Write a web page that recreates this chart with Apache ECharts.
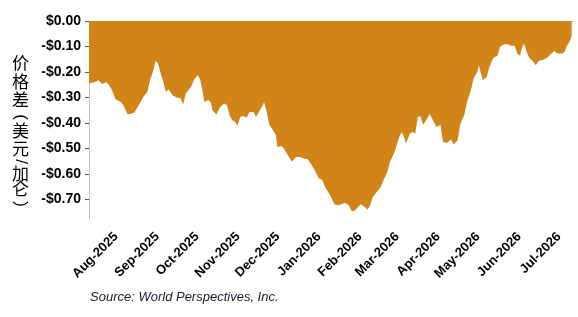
<!DOCTYPE html>
<html>
<head>
    <meta charset="utf-8">
    <title>价格差</title>
    <script src="https://cdn.jsdelivr.net/npm/echarts@6/dist/echarts.min.js"></script>
    <style>
        html, body { margin: 0; padding: 0; background: #fff; }
    </style>
</head>
<body>
    <div id="main" style="width: 578px;height:317px;"></div>
    <script type="text/javascript">
        // 数据
        var dates = [
            '2025-07-15','2025-07-20','2025-07-22','2025-07-25','2025-07-28','2025-07-30',
            '2025-08-01','2025-08-04','2025-08-08','2025-08-10','2025-08-13','2025-08-15','2025-08-18','2025-08-20','2025-08-23','2025-08-25','2025-08-28','2025-08-30',
            '2025-09-02','2025-09-03','2025-09-05','2025-09-07','2025-09-09','2025-09-11','2025-09-13','2025-09-16','2025-09-19','2025-09-22','2025-09-24','2025-09-26','2025-09-30',
            '2025-10-02','2025-10-05','2025-10-07','2025-10-09','2025-10-10','2025-10-13','2025-10-15','2025-10-16','2025-10-19','2025-10-20','2025-10-22','2025-10-25','2025-10-27','2025-10-29','2025-10-31',
            '2025-11-02','2025-11-04','2025-11-06','2025-11-08','2025-11-11','2025-11-13','2025-11-16','2025-11-18','2025-11-21','2025-11-23','2025-11-24','2025-11-26','2025-11-28','2025-11-30',
            '2025-12-03','2025-12-04','2025-12-07','2025-12-09','2025-12-12','2025-12-15','2025-12-18','2025-12-21','2025-12-24','2025-12-27','2025-12-30',
            '2026-01-02','2026-01-04','2026-01-07','2026-01-09','2026-01-12','2026-01-14','2026-01-16','2026-01-19','2026-01-24','2026-01-27','2026-01-29','2026-01-31',
            '2026-02-03','2026-02-05','2026-02-08','2026-02-10','2026-02-12','2026-02-14','2026-02-17','2026-02-20','2026-02-22','2026-02-25','2026-02-27',
            '2026-03-02','2026-03-04','2026-03-06','2026-03-08','2026-03-10','2026-03-11','2026-03-14','2026-03-16','2026-03-18','2026-03-20','2026-03-22','2026-03-24','2026-03-27','2026-03-29',
            '2026-04-01','2026-04-03','2026-04-06','2026-04-08','2026-04-11','2026-04-14','2026-04-16','2026-04-19','2026-04-21','2026-04-24','2026-04-26','2026-04-29',
            '2026-05-01','2026-05-04','2026-05-05','2026-05-08','2026-05-11','2026-05-13','2026-05-16','2026-05-19','2026-05-21','2026-05-24','2026-05-27','2026-05-29',
            '2026-06-01','2026-06-03','2026-06-05','2026-06-06','2026-06-08','2026-06-10','2026-06-12','2026-06-15','2026-06-17','2026-06-19','2026-06-22','2026-06-25','2026-06-28',
            '2026-07-01','2026-07-03','2026-07-07','2026-07-09','2026-07-10','2026-07-13','2026-07-14'
        ];
        var values = [
            -0.245,-0.238,-0.232,-0.247,-0.240,-0.251,
            -0.268,-0.307,-0.317,-0.330,-0.365,-0.365,-0.360,-0.343,-0.317,-0.297,-0.278,-0.232,
            -0.186,-0.156,-0.166,-0.205,-0.238,-0.278,-0.268,-0.291,-0.300,-0.303,-0.327,-0.284,-0.258,
            -0.232,-0.212,-0.232,-0.284,-0.317,-0.310,-0.320,-0.349,-0.366,-0.373,-0.336,-0.323,-0.330,-0.369,-0.389,
            -0.395,-0.411,-0.376,-0.372,-0.378,-0.357,-0.357,-0.376,-0.349,-0.330,-0.317,-0.356,-0.408,-0.421,
            -0.448,-0.494,-0.490,-0.500,-0.526,-0.552,-0.533,-0.533,-0.539,-0.542,-0.565,
            -0.592,-0.614,-0.624,-0.651,-0.676,-0.695,-0.718,-0.722,-0.713,-0.722,-0.745,-0.745,
            -0.729,-0.718,-0.729,-0.739,-0.722,-0.690,-0.670,-0.651,-0.624,-0.592,-0.552,
            -0.519,-0.487,-0.454,-0.435,-0.461,-0.480,-0.441,-0.435,-0.441,-0.376,-0.373,-0.408,-0.382,-0.365,
            -0.395,-0.415,-0.408,-0.474,-0.478,-0.464,-0.484,-0.467,-0.404,-0.369,-0.317,-0.271,
            -0.225,-0.199,-0.173,-0.232,-0.219,-0.179,-0.144,-0.136,-0.101,-0.091,-0.091,-0.097,
            -0.097,-0.127,-0.136,-0.114,-0.088,-0.121,-0.144,-0.160,-0.173,-0.157,-0.153,-0.146,-0.131,
            -0.118,-0.127,-0.127,-0.118,-0.101,-0.075,-0.055
        ];
        var monthTicks = ['2025-08-01','2025-09-01','2025-10-01','2025-11-01','2025-12-01','2026-01-01',
            '2026-02-01','2026-03-01','2026-04-01','2026-05-01','2026-06-01','2026-07-01'];
        var yTicks = [0, -0.1, -0.2, -0.3, -0.4, -0.5, -0.6, -0.7];
        var monthNames = ['Jan','Feb','Mar','Apr','May','Jun','Jul','Aug','Sep','Oct','Nov','Dec'];

        function toTime(s) {
            var p = s.split('-');
            return new Date(+p[0], +p[1] - 1, +p[2]).getTime();
        }

        var seriesData = [];
        for (var i = 0; i < dates.length; i++) {
            seriesData.push([toTime(dates[i]), values[i]]);
        }
        var xTickValues = monthTicks.map(toTime);

        var myChart = echarts.init(document.getElementById('main'));

        var latin = 'Arial, "Liberation Sans", sans-serif';
        var cjk = '"Noto Sans CJK SC", sans-serif';

        // 纵轴标题：竖排，括号和斜杠转 90 度
        var titleChars = [
            { t: '价', y: 63 }, { t: '格', y: 82 }, { t: '差', y: 100 },
            { t: '(', y: 117, r: true }, { t: '美', y: 131 }, { t: '元', y: 149 },
            { t: '/', y: 161.5, r: true }, { t: '加', y: 174 }, { t: '仑', y: 189 },
            { t: ')', y: 204, r: true }
        ];
        var titleGraphics = titleChars.map(function (c) {
            return {
                type: 'text',
                x: 20.5,
                y: c.y,
                rotation: c.r ? -Math.PI / 2 : 0,
                style: {
                    text: c.t,
                    align: 'center',
                    verticalAlign: 'middle',
                    fill: '#000',
                    fontSize: 17,
                    fontFamily: c.r ? latin : cjk
                }
            };
        });

        var option = {
            animation: false,
            grid: {
                left: 89,
                right: 5,
                top: 21,
                bottom: 97
            },
            // 横轴用数值轴装时间戳，刻度放在每月 1 日
            xAxis: {
                type: 'value',
                min: toTime('2025-07-15'),
                max: toTime('2026-07-15'),
                axisLine: { lineStyle: { color: '#BFBFBF', width: 1 } },
                axisTick: {
                    customValues: xTickValues,
                    length: 4,
                    lineStyle: { color: '#555' }
                },
                axisLabel: {
                    customValues: xTickValues,
                    rotate: 45,
                    align: 'right',
                    verticalAlign: 'top',
                    margin: 10,
                    hideOverlap: false,
                    color: '#000',
                    fontWeight: 'bold',
                    fontSize: 13,
                    fontFamily: latin,
                    formatter: function (v) {
                        var d = new Date(v);
                        return monthNames[d.getMonth()] + '-' + d.getFullYear();
                    }
                },
                splitLine: { show: false }
            },
            yAxis: {
                type: 'value',
                min: -0.78,
                max: 0,
                axisLine: { show: true, lineStyle: { color: '#BFBFBF', width: 1 } },
                axisTick: {
                    show: true,
                    customValues: yTicks,
                    length: 4,
                    lineStyle: { color: '#555' }
                },
                axisLabel: {
                    customValues: yTicks,
                    margin: 8,
                    color: '#000',
                    fontWeight: 'bold',
                    fontSize: 14,
                    fontFamily: latin,
                    formatter: function (v) {
                        var s = '$' + Math.abs(v).toFixed(2);
                        return v < -0.0001 ? '-' + s : s;
                    }
                },
                splitLine: { show: false }
            },
            graphic: titleGraphics.concat([
                {
                    type: 'text',
                    left: 90,
                    top: 291,
                    style: {
                        text: 'Source: World Perspectives, Inc.',
                        fill: '#1a1a2e',
                        fontSize: 13,
                        fontStyle: 'italic',
                        fontFamily: latin
                    }
                }
            ]),
            series: [
                {
                    name: '价格差',
                    type: 'line',
                    data: seriesData,
                    showSymbol: false,
                    lineStyle: { width: 0 },
                    itemStyle: { color: '#D18417' },
                    areaStyle: { color: '#D18417', opacity: 1 }
                }
            ]
        };

        myChart.setOption(option);
    </script>
</body>
</html>
